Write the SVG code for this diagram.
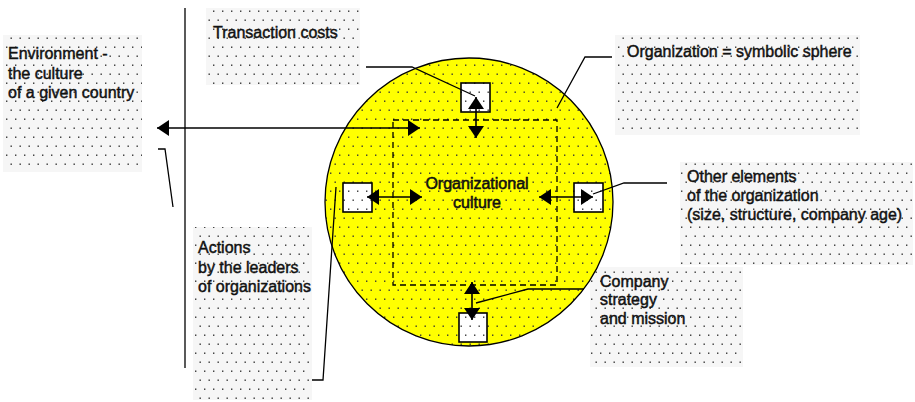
<svg xmlns="http://www.w3.org/2000/svg" width="915" height="402" viewBox="0 0 915 402">
<style>
.lbl{font-family:"Liberation Sans",Arial,sans-serif;font-size:16px;fill:#111;stroke:#111;stroke-width:0.45}
.ctr{font-family:"Liberation Sans",Arial,sans-serif;font-size:16px;fill:#111;stroke:#111;stroke-width:0.55;text-anchor:middle}
.note{fill:url(#dots);stroke:none}
.bg{fill:#f6f6f6;stroke:none}
.small{fill:url(#dots);stroke:#000;stroke-width:1.6}
.ln{fill:none;stroke:#000;stroke-width:1.3}
.arr{fill:none;stroke:#000;stroke-width:1.6;marker-start:url(#ah);marker-end:url(#ah)}
</style>
<defs>
<pattern id="dots" width="9" height="18" patternUnits="userSpaceOnUse">
<rect x="1.5" y="1.5" width="1.4" height="1.4" fill="#333"/>
<rect x="6" y="10.5" width="1.4" height="1.4" fill="#333"/>
</pattern>
<marker id="ah" viewBox="0 0 12 16" refX="12" refY="8" markerWidth="12" markerHeight="16" markerUnits="userSpaceOnUse" orient="auto-start-reverse">
<path d="M0,0 L12,8 L0,16 z" fill="#000"/>
</marker>
</defs>
<rect width="915" height="402" fill="#fff"/>

<g id="env">
<rect class="bg" x="3" y="35" width="139" height="137"/>
<rect class="note" x="3" y="35" width="139" height="137"/>
<text class="lbl" x="8" y="59">Environment -</text>
<text class="lbl" x="8" y="79">the culture</text>
<text class="lbl" x="8" y="98">of a given country</text>
</g>

<g id="transaction">
<rect class="bg" x="206" y="8" width="154" height="77"/>
<rect class="note" x="206" y="8" width="154" height="77"/>
<text class="lbl" x="213" y="38">Transaction costs</text>
</g>

<g id="symbolic">
<rect class="bg" x="615" y="35" width="245" height="100"/>
<rect class="note" x="615" y="35" width="245" height="100"/>
<text class="lbl" x="627" y="57">Organization = symbolic sphere</text>
</g>

<g id="other">
<rect class="bg" x="680" y="162" width="233" height="103"/>
<rect class="note" x="680" y="162" width="233" height="103"/>
<text class="lbl" x="687" y="182">Other elements</text>
<text class="lbl" x="687" y="201">of the organization</text>
<text class="lbl" x="687" y="220">(size, structure, company age)</text>
</g>

<g id="actions">
<rect class="bg" x="193" y="227" width="119" height="173"/>
<rect class="note" x="193" y="227" width="119" height="173"/>
<text class="lbl" x="198" y="253">Actions</text>
<text class="lbl" x="198" y="273">by the leaders</text>
<text class="lbl" x="198" y="292">of organizations</text>
</g>

<g id="company">
<rect class="bg" x="590" y="267" width="153" height="100"/>
<rect class="note" x="590" y="267" width="153" height="100"/>
<text class="lbl" x="600" y="287">Company</text>
<text class="lbl" x="600" y="305">strategy</text>
<text class="lbl" x="600" y="324">and mission</text>
</g>

<g id="sphere">
<circle cx="469" cy="202" r="144" fill="#ffff00" stroke="none"/>
<circle cx="469" cy="202" r="144" fill="url(#dots)" stroke="#000" stroke-width="1.3"/>
</g>

<g id="culture">
<rect x="393" y="120" width="164" height="165" fill="none" stroke="#000" stroke-width="1.3" stroke-dasharray="6,4"/>
<text class="ctr" x="477" y="189">Organizational</text>
<text class="ctr" x="477" y="208">culture</text>
</g>

<g id="box-top">
<rect x="461" y="83" width="29" height="29" fill="#fff"/>
<rect class="small" x="461" y="83" width="29" height="29"/>
</g>
<g id="box-left">
<rect x="343" y="183" width="29" height="29" fill="#fff"/>
<rect class="small" x="343" y="183" width="29" height="29"/>
</g>
<g id="box-right">
<rect x="574" y="183" width="29" height="29" fill="#fff"/>
<rect class="small" x="574" y="183" width="29" height="29"/>
</g>
<g id="box-bottom">
<rect x="459" y="313" width="28" height="29" fill="#fff"/>
<rect class="small" x="459" y="313" width="28" height="29"/>
</g>

<g id="connectors">
<line class="ln" x1="185" y1="8" x2="185" y2="368"/>
<line class="arr" x1="157" y1="128" x2="420" y2="128"/>
<polyline class="ln" points="158,149 165,149 173,207"/>
<polyline class="ln" points="312,380 323,380 336,187"/>
<polyline class="ln" points="366,67 412,67 475,96"/>
<polyline class="ln" points="612,57 585,57 557,108"/>
<polyline class="ln" points="667,183 624,183 593,194"/>
<polyline class="ln" points="584,289 528,289 476,303"/>
<line class="arr" x1="476" y1="97" x2="476" y2="138"/>
<line class="arr" x1="367" y1="197" x2="422" y2="197"/>
<line class="arr" x1="539" y1="197" x2="593" y2="197"/>
<line class="arr" x1="472" y1="282" x2="472" y2="320"/>
</g>
</svg>
